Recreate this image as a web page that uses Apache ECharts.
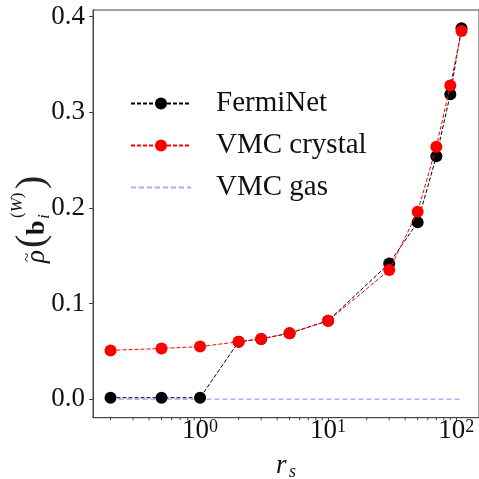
<!DOCTYPE html>
<html>
<head>
<meta charset="utf-8">
<script src="https://cdn.jsdelivr.net/npm/echarts@6/dist/echarts.min.js"></script>
<style>
  html, body { margin: 0; padding: 0; background: #fff; }
  #chart { width: 479px; height: 479px; }
</style>
</head>
<body>
<div id="chart"></div>
<script>
// Density of the Wigner-crystal peak vs. r_s
const rs = [0.2, 0.5, 1, 2, 3, 5, 10, 30, 50, 70, 90, 110];
const fermiNet = [0.0015, 0.0015, 0.0015, 0.060, 0.063, 0.069, 0.082, 0.142, 0.185, 0.254, 0.319, 0.388];
const vmcCrystal = [0.051, 0.053, 0.055, 0.060, 0.063, 0.069, 0.082, 0.135, 0.196, 0.264, 0.328, 0.385];
const vmcGas = [0, 0, 0, 0, 0, 0, 0, 0, 0, 0, 0, 0];
const seriesNames = ['FermiNet', 'VMC crystal', 'VMC gas'];
const yTicks = [0.0, 0.1, 0.2, 0.3, 0.4];
const xMinorTicks = [0.2, 0.3, 0.4, 0.5, 0.6, 0.7, 0.8, 0.9,
                     2, 3, 4, 5, 6, 7, 8, 9,
                     20, 30, 40, 50, 60, 70, 80, 90];

const FONT = 'Liberation Serif';
const X_MIN = 0.1459, X_MAX = 150.7;
const Y_MIN = -0.0194, Y_MAX = 0.407;
const AXIS_COLOR = '#444';

const pairs = (ys) => rs.map((x, i) => [x, ys[i]]);

const chart = echarts.init(document.getElementById('chart'), null, { renderer: 'canvas' });

const option = {
  animation: false,
  backgroundColor: '#fff',
  textStyle: { fontFamily: FONT },
  grid: {
    left: 93, top: 10, right: -4, bottom: 61.3,
    show: true, borderColor: AXIS_COLOR, borderWidth: 1, backgroundColor: 'transparent'
  },
  legend: {
    orient: 'vertical',
    left: 125, top: 84,
    itemWidth: 60, itemHeight: 15, itemGap: 13,
    data: [
      { name: seriesNames[0] },
      { name: seriesNames[1] },
      { name: seriesNames[2], itemStyle: { opacity: 0 } }
    ],
    textStyle: {
      fontFamily: FONT, fontSize: 29, color: '#111', lineHeight: 28.5,
      padding: [0, 0, 0, 20]
    }
  },
  xAxis: {
    type: 'log', logBase: 10, min: X_MIN, max: X_MAX,
    axisLine: { show: true, onZero: false, lineStyle: { color: AXIS_COLOR, width: 1 } },
    axisTick: { show: true, length: 4, lineStyle: { color: AXIS_COLOR } },
    splitLine: { show: false },
    minorTick: { show: false },
    axisLabel: {
      margin: 1,
      showMinLabel: false, showMaxLabel: false,
      color: '#111',
      formatter: function (v) {
        const l = Math.log10(v);
        const e = Math.round(l);
        if (Math.abs(l - e) > 1e-6) return '';
        return '{b|10}{s|' + e + '}';
      },
      rich: {
        b: { fontFamily: FONT, fontSize: 27, color: '#111', lineHeight: 26, padding: [4, 0, 0, 0], verticalAlign: 'bottom' },
        s: { fontFamily: FONT, fontSize: 18, color: '#111', lineHeight: 18, verticalAlign: 'top' }
      }
    }
  },
  yAxis: {
    type: 'value', min: Y_MIN, max: Y_MAX, splitNumber: 5,
    axisLine: { show: true, onZero: false, lineStyle: { color: AXIS_COLOR, width: 1 } },
    axisTick: { show: true, length: 4, lineStyle: { color: AXIS_COLOR } },
    splitLine: { show: false },
    axisLabel: {
      margin: 8, fontFamily: FONT, fontSize: 27, color: '#111',
      showMinLabel: false, showMaxLabel: false,
      formatter: function (v) {
        const hit = yTicks.find(t => Math.abs(t - v) < 1e-6);
        return hit === undefined ? '' : hit.toFixed(1);
      }
    }
  },
  series: [
    {
      name: seriesNames[2], type: 'line', data: pairs(vmcGas),
      symbol: 'none', z: 1,
      lineStyle: { color: '#aeaeff', width: 1.5, type: [5, 3] },
      itemStyle: { color: '#aeaeff' }
    },
    {
      name: seriesNames[0], type: 'line', data: pairs(fermiNet),
      symbol: 'circle', symbolSize: 12, z: 2,
      lineStyle: { color: '#000', width: 1, type: [4, 2] },
      itemStyle: { color: '#000' }
    },
    {
      name: seriesNames[1], type: 'line', data: pairs(vmcCrystal),
      symbol: 'circle', symbolSize: 12, z: 3,
      lineStyle: { color: '#ff0000', width: 1, type: [4, 2] },
      itemStyle: { color: '#ff0000' }
    },
    {
      // minor ticks of the log axis
      name: 'minor', type: 'custom', silent: true, z: 5,
      data: xMinorTicks.map(v => [v]),
      renderItem: function (params, api) {
        const p = api.coord([api.value(0), Y_MIN]);
        return {
          type: 'line',
          shape: { x1: p[0], y1: p[1], x2: p[0], y2: p[1] + 2.5 },
          style: { stroke: AXIS_COLOR, lineWidth: 1 }
        };
      }
    }
  ],
  graphic: [
    {
      // y-axis title, rotated to read bottom-to-top
      type: 'group', x: 44, y: 216, rotation: Math.PI / 2,
      children: [
        { type: 'text', x: -47, y: 0, style: { text: 'ρ', font: 'italic 27px ' + FONT, fill: '#111', textAlign: 'left', verticalAlign: 'bottom', y: 6 } },
        { type: 'text', x: -46, y: -16, style: { text: '~', font: '17px ' + FONT, fill: '#111', textAlign: 'left', verticalAlign: 'middle' } },
        { type: 'text', x: -32, y: 8, style: { text: '(', font: '40px ' + FONT, fill: '#222', textAlign: 'left', verticalAlign: 'bottom' } },
        { type: 'text', x: -19, y: 6, style: { text: 'b', font: 'bold 26px ' + FONT, fill: '#111', textAlign: 'left', verticalAlign: 'bottom' } },
        { type: 'text', x: -3, y: 9, style: { text: 'i', font: 'italic 17px ' + FONT, fill: '#111', textAlign: 'left', verticalAlign: 'bottom' } },
        {
          type: 'text', x: -2, y: -18,
          style: {
            text: '{p|(}{w|W}{p|)}', fill: '#111', textAlign: 'left', verticalAlign: 'bottom',
            rich: {
              p: { fontFamily: FONT, fontSize: 17, fill: '#111' },
              w: { fontFamily: FONT, fontSize: 17, fontStyle: 'italic', fill: '#111' }
            }
          }
        },
        { type: 'text', x: 27, y: 8, style: { text: ')', font: '40px ' + FONT, fill: '#222', textAlign: 'left', verticalAlign: 'bottom' } }
      ]
    },
    {
      // x-axis title r_s
      type: 'group', x: 0, y: 0,
      children: [
        { type: 'text', x: 276, y: 479, style: { text: 'r', font: 'italic 27px ' + FONT, fill: '#111', textAlign: 'left', verticalAlign: 'bottom' } },
        { type: 'text', x: 289, y: 481, style: { text: 's', font: 'italic 18px ' + FONT, fill: '#111', textAlign: 'left', verticalAlign: 'bottom' } }
      ]
    }
  ]
};

chart.setOption(option);
</script>
</body>
</html>
